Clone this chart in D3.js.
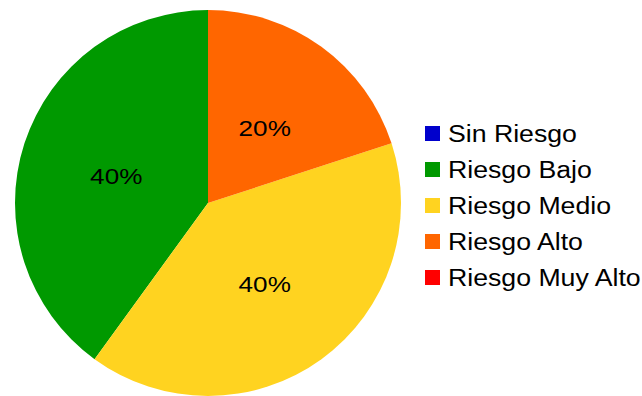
<!DOCTYPE html>
<html>
<head>
<meta charset="utf-8">
<script src="https://cdn.jsdelivr.net/npm/d3@7"></script>
<style>
  html, body { margin: 0; padding: 0; background: #fff; }
  svg { display: block; }
  text { font-family: "Liberation Sans", Arial, sans-serif; fill: #000; }
</style>
</head>
<body>
<svg id="chart" width="642" height="396"></svg>
<script>
// Risk categories and their share of the total
const categories = ["Sin Riesgo", "Riesgo Bajo", "Riesgo Medio", "Riesgo Alto", "Riesgo Muy Alto"];
const values = [0, 40, 40, 20, 0];
const colors = ["#0000cc", "#009900", "#ffd320", "#ff6600", "#ff0000"];

const svg = d3.select("#chart");
const cx = 208, cy = 203, radius = 193;
const stretch = 1.16; // horizontal stretch applied to all text

const data = categories.map((c, i) => ({ name: c, value: values[i], color: colors[i] }));
const total = d3.sum(values);

// Slices run counter-clockwise from 12 o'clock
const pie = d3.pie().value(d => d.value).sort(null).startAngle(0).endAngle(-2 * Math.PI);
const arc = d3.arc().innerRadius(0).outerRadius(radius);

const g = svg.append("g").attr("transform", `translate(${cx},${cy})`);
const arcs = pie(data).filter(d => d.data.value > 0);

g.selectAll("path.slice")
  .data(arcs)
  .join("path")
  .attr("class", "slice")
  .attr("d", arc)
  .attr("fill", d => d.data.color);

// Percentage labels at each slice's centroid
g.selectAll("g.lbl")
  .data(arcs)
  .join("g")
  .attr("class", "lbl")
  .attr("transform", d => { const [x, y] = arc.centroid(d); return `translate(${x},${y + 3}) scale(${stretch},1)`; })
  .append("text")
  .attr("text-anchor", "middle")
  .attr("dy", "0.36em")
  .style("font-size", "22.5px")
  .text(d => Math.round(d.data.value / total * 100) + "%");

// Legend
const legendX = 425, legendY = 126, rowH = 36, sw = 15;
const legend = svg.append("g").attr("transform", `translate(${legendX},${legendY})`);
const rows = legend.selectAll("g.row")
  .data(data)
  .join("g")
  .attr("class", "row")
  .attr("transform", (d, i) => `translate(0,${i * rowH})`);

rows.append("rect")
  .attr("width", sw)
  .attr("height", sw)
  .attr("fill", d => d.color);

rows.append("text")
  .attr("transform", `translate(23,${sw + 1}) scale(${stretch},1)`)
  .style("font-size", "23px")
  .text(d => d.name);
</script>
</body>
</html>
